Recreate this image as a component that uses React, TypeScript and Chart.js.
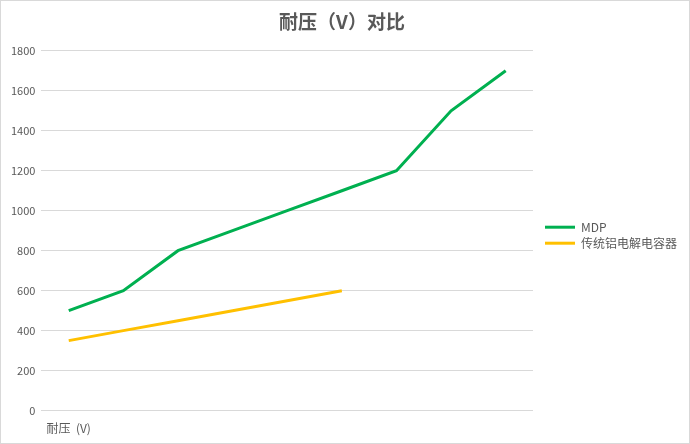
import { useEffect, useRef } from "react";
import { Chart, registerables } from "chart.js";

Chart.register(...registerables);

const categories = ["耐压  (V)", "", "", "", "", "", "", "", ""];
const mdpValues = [500, 600, 800, 900, 1000, 1100, 1200, 1500, 1700];
const aluValues = [350, 400, 450, 500, 550, 600];
const seriesNames = ["MDP", "传统铝电解电容器"];

const FONT = "'Noto Sans CJK SC', 'Noto Sans', sans-serif";

// pushes the legend a few pixels right of where the layout puts it
const legendShift = {
  id: "legendShift",
  beforeDraw(chart: any) {
    if (chart.legend) {
      chart.legend.left += 8;
      chart.legend.right += 8;
    }
  },
};

export default function App() {
  const canvasRef = useRef<HTMLCanvasElement>(null);

  useEffect(() => {
    document.body.style.margin = "0";
    if (!canvasRef.current) return;
    const chart = new Chart(canvasRef.current, {
      type: "line",
      data: {
        labels: categories,
        datasets: [
          {
            label: seriesNames[0],
            data: mdpValues,
            borderColor: "#00b050",
            backgroundColor: "#00b050",
            borderWidth: 3,
            pointRadius: 0,
            tension: 0,
          },
          {
            label: seriesNames[1],
            data: aluValues,
            borderColor: "#ffc000",
            backgroundColor: "#ffc000",
            borderWidth: 3,
            pointRadius: 0,
            tension: 0,
          },
        ],
      },
      options: {
        animation: false,
        responsive: true,
        maintainAspectRatio: false,
        layout: { padding: { left: 4, right: 10, top: 6, bottom: 4 } },
        plugins: {
          title: {
            display: true,
            text: "耐压（V）对比",
            color: "#595959",
            font: { family: FONT, size: 19, weight: "bold" },
            padding: { top: 3, bottom: 18 },
          },
          legend: {
            position: "right",
            title: { display: true, text: "", padding: 5 },
            labels: {
              boxWidth: 30,
              boxHeight: 3,
              color: "#595959",
              font: { family: FONT, size: 12 },
              padding: 4,
              generateLabels: (c) =>
                Chart.defaults.plugins.legend.labels
                  .generateLabels(c)
                  .map((l) => ({ ...l, lineWidth: 0 })),
            },
          },
          tooltip: { enabled: false },
        },
        scales: {
          x: {
            offset: true,
            grid: { display: false },
            border: { display: false },
            ticks: {
              autoSkip: false,
              maxRotation: 0,
              color: "#595959",
              font: { family: FONT, size: 12 },
            },
          },
          y: {
            min: 0,
            max: 1800,
            grid: { color: "#d9d9d9", drawTicks: false },
            border: { display: false },
            ticks: {
              stepSize: 200,
              padding: 6,
              color: "#595959",
              font: { family: FONT, size: 11 },
              callback: (v) => String(v),
            },
          },
        },
      },
      plugins: [legendShift],
    });
    return () => chart.destroy();
  }, []);

  return (
    <div
      style={{
        position: "fixed",
        left: 0,
        top: 0,
        width: 690,
        height: 444,
        boxSizing: "border-box",
        border: "1px solid #d9d9d9",
        background: "#fff",
      }}
    >
      <canvas ref={canvasRef} />
    </div>
  );
}
